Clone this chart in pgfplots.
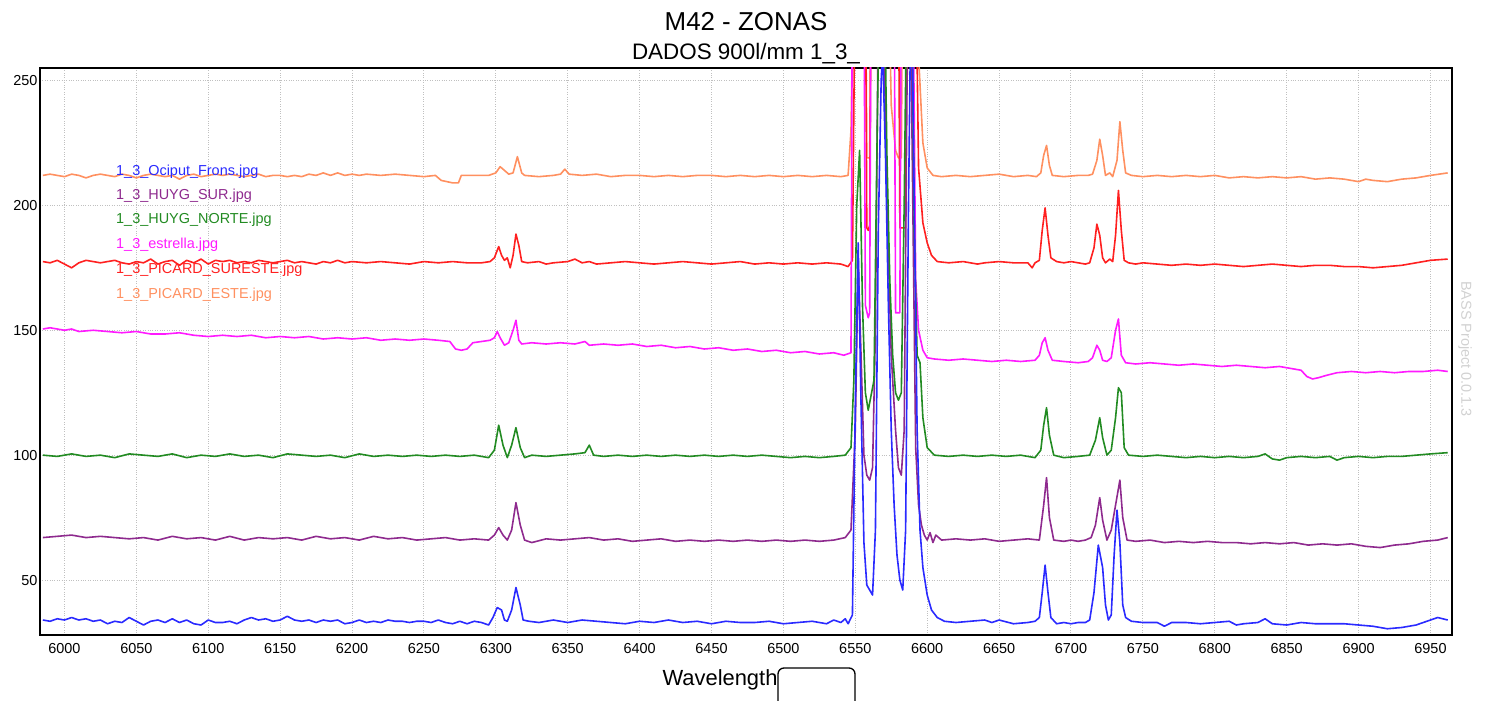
\documentclass[border=0pt]{standalone}
\usepackage{pgfplots}
\pgfplotsset{compat=1.18}
\usepackage{fontspec}
\setmainfont{Liberation Sans}
\definecolor{cblue}{HTML}{2A2AFF}
\definecolor{cpurple}{HTML}{8E2A8E}
\definecolor{cgreen}{HTML}{228B22}
\definecolor{cmag}{HTML}{FF1AFF}
\definecolor{cred}{HTML}{FF2020}
\definecolor{corange}{HTML}{FF9060}
\definecolor{gridc}{HTML}{C0C0C0}
\begin{document}
\begin{tikzpicture}
\path[use as bounding box] (-40bp,-66bp) rectangle (1446bp,635bp);
\begin{axis}[
  scale only axis, width=1412bp, height=567bp,
  at={(0,0)}, anchor=south west,
  xmin=5983, xmax=6965, ymin=28, ymax=255,
  xtick={6000,6050,...,6950}, ytick={50,100,150,200,250},
  grid=major, major grid style={gridc, dotted, line width=1bp},
  major tick length=0pt,
  axis line style={black, line width=1.3bp},
  /pgf/number format/assume math mode=true,
  /pgf/number format/set thousands separator={},
  tick label style={font=\fontsize{14.5}{17}\selectfont},
  xticklabel style={yshift=-5bp},
  yticklabel style={xshift=1bp},
  clip=true,
  every axis plot/.append style={line width=1.6bp, line join=round},
]
% orange PICARD_ESTE
\addplot[corange] coordinates {
(5985,212)(5990,212.5)(5995,212)(6000,211.5)(6005,212.5)(6010,212)(6015,211)(6020,212)(6025,212.5)(6030,212)(6035,211.5)(6040,212.5)(6045,212)(6050,211)(6055,212)(6060,212.5)(6065,212)(6070,211.5)(6075,212)(6080,210.5)(6085,212)(6090,212.5)(6095,211.5)(6100,212)(6105,212.5)(6110,212)(6115,212.5)(6120,212)(6125,211.5)(6130,212)(6135,212.5)(6140,211.5)(6145,212)(6150,212)(6155,211.5)(6160,212)(6165,211.5)(6170,212.5)(6175,212)(6180,213)(6185,212)(6190,213)(6195,212)(6200,212.5)(6205,212)(6210,212.5)(6220,212)(6230,212.5)(6240,212)(6250,211.5)(6258,212)(6262,210)(6266,209.5)(6270,209)(6274,209)(6276,212)(6285,212)(6295,212)(6300,213)(6303,215.5)(6306,214)(6309,212.5)(6312,213)(6315,219.5)(6318,213)(6320,212)(6330,211.5)(6340,212)(6345,212.5)(6348,214.5)(6351,212.5)(6360,212)(6370,212.5)(6380,211.5)(6390,212)(6400,212)(6410,211.5)(6420,212)(6430,211.5)(6440,212)(6450,212)(6460,211.5)(6470,212)(6480,211.5)(6490,212)(6500,211.5)(6510,212)(6520,211.5)(6530,212)(6540,211.5)(6545,212)(6547,230)(6549,300)(6557,300)(6558,219)(6560,219)(6561,300)(6573,300)(6575,240)(6578,222)(6580,219)(6582,219)(6583,300)(6592,300)(6594,260)(6597,225)(6600,215)(6604,212)(6610,211.5)(6620,212)(6630,211.5)(6640,212)(6650,212.5)(6660,211.5)(6670,212)(6676,211.5)(6679,213)(6681,220)(6683,224)(6685,216)(6687,212)(6695,211.5)(6705,212)(6712,212)(6715,212.5)(6718,218)(6720,226.5)(6722,220)(6724,212)(6727,213)(6729,211.5)(6732,218)(6734,233.5)(6736,222)(6738,213)(6742,212)(6750,211.5)(6760,212)(6770,211.5)(6780,212)(6790,211.5)(6800,212)(6810,211)(6820,211.5)(6830,211)(6840,211.5)(6850,211)(6860,211.5)(6870,210.5)(6880,211)(6890,210.5)(6900,209.5)(6905,210.5)(6910,210)(6920,209.5)(6930,210.5)(6940,211)(6950,212)(6962,213)
};
% red PICARD_SURESTE
\addplot[cred] coordinates {
(5985,177.5)(5990,177)(5995,178)(6000,176.5)(6005,175)(6010,177)(6015,178)(6020,177.5)(6025,177)(6030,177.5)(6035,178)(6040,177)(6045,176.5)(6050,177.5)(6055,177)(6060,178.5)(6065,176.5)(6070,177.5)(6075,178)(6080,176)(6085,178)(6090,177)(6095,178.5)(6100,176.5)(6105,178)(6110,177.5)(6115,178)(6120,177)(6125,177.5)(6130,177)(6135,178)(6140,177.5)(6145,177)(6150,177.5)(6155,178)(6160,177)(6165,177.5)(6170,177)(6175,176.5)(6180,177.5)(6185,177)(6190,178)(6195,177)(6200,177.5)(6210,177)(6220,177.5)(6230,177)(6240,176.5)(6250,177.5)(6260,177)(6270,177.5)(6280,177)(6290,177)(6296,177.5)(6299,179)(6302,183.5)(6304,180)(6306,178)(6308,179)(6310,175)(6312,180)(6314,188.5)(6316,184)(6318,177.5)(6322,177)(6330,177.5)(6335,176.5)(6340,177)(6350,177.5)(6355,178.5)(6360,177)(6365,177.5)(6370,176.5)(6380,177)(6390,177.5)(6400,177)(6410,176.5)(6420,177)(6430,177.5)(6440,177)(6450,176.5)(6460,177)(6470,177.5)(6480,176.5)(6490,177)(6500,176.5)(6510,177)(6520,176.5)(6530,177)(6540,176.5)(6545,175.5)(6548,178)(6550,300)(6557,300)(6558,191)(6559,190)(6560,192)(6561,300)(6580,300)(6581,191)(6585,191)(6586,300)(6592,300)(6594,215)(6597,193)(6600,185)(6603,180)(6607,177.5)(6615,177)(6625,177.5)(6635,176.5)(6640,177)(6650,177.5)(6660,177)(6670,177)(6673,175)(6675,177)(6678,178)(6680,190)(6682,199)(6684,188)(6686,179)(6690,177.5)(6695,177)(6700,177.5)(6705,177)(6710,176.5)(6713,177)(6716,183)(6718,192.5)(6720,188)(6722,179)(6724,177)(6727,178.5)(6729,177.5)(6731,188)(6733,206)(6735,190)(6737,178)(6740,177)(6745,176.5)(6750,177)(6760,176.5)(6770,176)(6780,176.5)(6790,176)(6800,176.5)(6810,176)(6820,175.5)(6830,176)(6840,176.5)(6850,176)(6860,175.5)(6870,176)(6880,176)(6890,175.5)(6900,175.5)(6910,175)(6920,175.5)(6930,176)(6940,177)(6950,178)(6962,178.5)
};
% magenta estrella
\addplot[cmag] coordinates {
(5985,150.5)(5990,151)(5995,150.5)(6000,150)(6005,150.5)(6010,149.5)(6020,150)(6030,149.5)(6040,149)(6050,149.5)(6060,148.5)(6070,148.5)(6080,149)(6090,148)(6100,147.5)(6110,148)(6120,147.5)(6130,148)(6140,147)(6150,147.5)(6160,147)(6170,147.5)(6180,146.5)(6190,147)(6200,146.5)(6210,147)(6220,146)(6230,146.5)(6240,146)(6250,146.5)(6260,146)(6268,145.5)(6272,142.5)(6276,142)(6280,142.5)(6284,145)(6290,145.5)(6296,146)(6299,147)(6301,149.5)(6303,147)(6306,144)(6309,145)(6312,150)(6314,154)(6316,146)(6318,144.5)(6325,145)(6335,144.5)(6345,145)(6355,144.5)(6362,145.5)(6365,144)(6375,144.5)(6385,144)(6395,144.5)(6405,143.5)(6415,144)(6425,143)(6435,143.5)(6445,142.5)(6455,143)(6465,142)(6475,142.5)(6485,141.5)(6495,142)(6505,141)(6515,141.5)(6525,140.5)(6535,141)(6542,140)(6547,141)(6548,300)(6556,300)(6557,160)(6559,155)(6560,157)(6561,300)(6577,300)(6578,157)(6581,157)(6582,300)(6590,300)(6592,170)(6594,150)(6597,142)(6600,139)(6605,138.5)(6615,138)(6625,138.5)(6635,138)(6645,137.5)(6655,138)(6665,137.5)(6675,138)(6678,140)(6680,145)(6682,147)(6684,142)(6687,138)(6695,137.5)(6705,137)(6712,137.5)(6715,139)(6718,144)(6720,142)(6722,138)(6725,137.5)(6728,139)(6731,150)(6733,154.5)(6735,140)(6738,137)(6745,136.5)(6755,137)(6765,136.5)(6775,136)(6785,136.5)(6795,136)(6805,135.5)(6815,136)(6825,135.5)(6835,135)(6845,135.5)(6855,134.5)(6860,134)(6864,131.5)(6868,130.5)(6872,131)(6878,132)(6885,133)(6895,133.5)(6905,133)(6915,133.5)(6925,133)(6935,133.5)(6945,133.5)(6955,134)(6962,133.5)
};
% purple HUYG_SUR
\addplot[cpurple] coordinates {
(5985,67)(5995,67.5)(6005,68)(6015,67)(6025,67.5)(6035,67)(6045,66.5)(6055,67)(6065,66)(6075,67.5)(6085,66.5)(6095,67)(6105,66)(6115,67.5)(6125,66)(6135,67)(6145,66.5)(6155,67)(6165,66)(6175,67.5)(6185,66.5)(6195,67)(6205,66)(6215,67.5)(6225,66.5)(6235,67)(6245,66)(6255,66.5)(6265,67)(6275,66)(6285,66.5)(6295,66)(6299,68)(6302,71)(6305,68)(6308,66)(6311,70)(6314,81)(6317,72)(6320,66)(6325,65)(6335,66.5)(6345,66)(6355,66.5)(6365,67)(6375,66)(6385,66.5)(6395,65.5)(6405,66)(6415,66.5)(6425,65.5)(6435,66)(6445,65.5)(6455,66)(6465,65.5)(6475,66)(6485,65.5)(6495,66)(6505,65.5)(6515,66)(6525,65.5)(6535,66)(6543,67)(6547,70)(6550,110)(6552,178)(6554,140)(6556,100)(6558,92)(6560,90)(6562,95)(6564,150)(6566,280)(6569,300)(6572,200)(6575,140)(6578,110)(6580,95)(6582,92)(6584,110)(6586,250)(6588,300)(6590,200)(6592,103)(6594,80)(6596,72)(6598,68)(6600,66)(6602,69)(6604,65)(6606,68)(6610,66)(6620,66.5)(6630,66)(6640,66.5)(6650,65.5)(6660,66)(6670,66.5)(6678,66)(6681,80)(6683,91)(6685,75)(6688,66)(6695,65.5)(6700,66)(6705,65.5)(6710,66)(6714,67)(6717,72)(6720,83)(6722,74)(6725,66)(6728,70)(6731,80)(6734,90)(6736,75)(6739,66)(6745,65.5)(6755,66)(6765,65)(6775,65.5)(6785,65)(6795,65.5)(6805,65)(6815,65)(6825,64.5)(6835,65)(6845,64.5)(6855,65)(6865,64)(6875,64.5)(6885,64)(6895,64.5)(6905,63.5)(6915,63)(6925,64)(6935,64.5)(6945,65.5)(6955,66)(6962,67)
};
% green HUYG_NORTE
\addplot[cgreen] coordinates {
(5985,100)(5995,99.5)(6005,100.5)(6015,99.5)(6025,100)(6035,99)(6045,100.5)(6055,100)(6065,99.5)(6075,100.5)(6085,99)(6095,100)(6105,99.5)(6115,100.5)(6125,99.5)(6135,100)(6145,99)(6155,100.5)(6165,100)(6175,99.5)(6185,100)(6195,99)(6205,100.5)(6215,99.5)(6225,100)(6235,99.5)(6245,100)(6255,99.5)(6265,100)(6275,99.5)(6285,100)(6295,99)(6299,102)(6302,112)(6305,104)(6308,99)(6311,104)(6314,111)(6317,103)(6320,99)(6325,100)(6335,99.5)(6345,100)(6355,100.5)(6362,101)(6365,104)(6368,100)(6375,99.5)(6385,100)(6395,99.5)(6405,100)(6415,99.5)(6425,100)(6435,99.5)(6445,100)(6455,99.5)(6465,100)(6475,99.5)(6485,100)(6495,99.5)(6505,99)(6515,99.5)(6525,99)(6535,99.5)(6543,100)(6547,103)(6549,130)(6551,200)(6553,222)(6555,160)(6557,125)(6559,118)(6561,124)(6563,130)(6565,220)(6567,300)(6570,300)(6572,220)(6574,170)(6576,140)(6578,125)(6580,122)(6582,125)(6584,200)(6586,300)(6589,300)(6591,190)(6593,140)(6595,137)(6597,115)(6600,103)(6605,100)(6615,99.5)(6625,100)(6635,99.5)(6645,100)(6655,99.5)(6665,100)(6675,99)(6679,102)(6681,112)(6683,119)(6685,108)(6688,100)(6695,99)(6705,99.5)(6713,100)(6717,106)(6720,115)(6722,107)(6725,100)(6728,102)(6731,115)(6733,127)(6735,125)(6737,103)(6740,100)(6750,99.5)(6760,100)(6770,99.5)(6780,99)(6790,99.5)(6800,99)(6810,99.5)(6820,99)(6830,99.5)(6835,100.5)(6840,98.5)(6845,98)(6850,99)(6860,99.5)(6870,99)(6880,99.5)(6885,98)(6890,99)(6900,99.5)(6910,99)(6920,99.5)(6930,99.5)(6940,100)(6950,100.5)(6962,101)
};
% blue Ociput_Frons
\addplot[cblue] coordinates {
(5985,34)(5990,33.5)(5995,34.5)(6000,34)(6005,35)(6010,34)(6015,34.5)(6020,33.5)(6025,34)(6030,32.5)(6035,33.5)(6040,33)(6045,35)(6050,33.5)(6055,32)(6060,33.5)(6065,34)(6070,33)(6075,34.5)(6080,33)(6085,34)(6090,32.5)(6095,32)(6100,34)(6105,33)(6110,33)(6115,33.5)(6120,32.5)(6125,34)(6130,35)(6135,34)(6140,34.5)(6145,33.5)(6150,34)(6155,35.5)(6160,34)(6165,33.5)(6170,34)(6175,33)(6180,34)(6185,33.5)(6190,34)(6195,32.5)(6200,33)(6205,34)(6210,33)(6215,33.5)(6220,33)(6225,34)(6230,33.5)(6235,33.5)(6240,33)(6245,33.5)(6250,33.5)(6255,33)(6260,34)(6265,33)(6270,32.5)(6275,33.5)(6280,32.5)(6285,33.5)(6290,33)(6295,32)(6298,35)(6301,39)(6304,38)(6306,34)(6308,33.5)(6311,38)(6314,47)(6317,40)(6319,34)(6323,33.5)(6330,33)(6340,34)(6350,33)(6360,34)(6370,33.5)(6380,33)(6390,32.5)(6400,33.5)(6410,33)(6420,34)(6430,33)(6440,33.5)(6450,32.5)(6460,33.5)(6470,33)(6480,33)(6490,33.5)(6500,32.5)(6510,33)(6520,33.5)(6530,32.5)(6535,34)(6540,33)(6543,34.5)(6545,32.5)(6548,36)(6550,120)(6552,185)(6554,120)(6556,65)(6558,48)(6560,46)(6562,44)(6564,70)(6566,190)(6568,250)(6569,262)(6571,220)(6573,160)(6575,110)(6577,80)(6579,60)(6581,50)(6583,46)(6585,70)(6587,200)(6589,300)(6591,200)(6593,110)(6595,70)(6597,55)(6600,44)(6603,38)(6607,35)(6612,33.5)(6620,33)(6630,33.5)(6640,34)(6645,33)(6650,34)(6660,32.5)(6670,33)(6675,33.5)(6678,35)(6680,45)(6682,56)(6684,45)(6686,35)(6690,32.5)(6695,33)(6700,32.5)(6705,33)(6710,33)(6713,34)(6716,45)(6719,64)(6722,55)(6724,40)(6726,34)(6728,36)(6730,60)(6732,78)(6734,65)(6736,40)(6738,35)(6742,33.5)(6750,33)(6760,33)(6765,31.5)(6770,33)(6780,33)(6790,32.5)(6800,33)(6810,33.5)(6815,32)(6820,32.5)(6830,33)(6835,34.5)(6840,32.5)(6850,32)(6860,33)(6870,32.5)(6880,32.5)(6890,32.5)(6900,32)(6910,31.5)(6920,30.5)(6930,31)(6940,32)(6950,34)(6955,35)(6962,34)
};
\end{axis}
% titles and labels (1bp = 1px of reference; origin at axis lower left = px (40,635))
\node[font=\fontsize{26}{30}\selectfont] at (706bp,613bp) {M42 - ZONAS};
\node[font=\fontsize{22.5}{26}\selectfont] at (706bp,581bp) {DADOS 900l/mm 1\_3\_};
\node[font=\fontsize{22}{26}\selectfont] at (680bp,-45bp) {Wavelength};
\draw[black, line width=1.3bp, rounded corners=6bp] (738bp,-68bp) -- (738bp,-33bp) -- (815bp,-33bp) -- (815bp,-68bp);
\node[font=\fontsize{14.5}{17}\selectfont, text=black!18, rotate=-90] at (1425bp,286bp) {BASS Project 0.0.1.3};
% legend texts
\begin{scope}[every node/.style={anchor=west, inner sep=0pt, font=\fontsize{14.5}{17}\selectfont}]
\node[text=cblue] at (76bp,463bp) {1\_3\_Ociput\_Frons.jpg};
\node[text=cpurple] at (76bp,439bp) {1\_3\_HUYG\_SUR.jpg};
\node[text=cgreen] at (76bp,415bp) {1\_3\_HUYG\_NORTE.jpg};
\node[text=cmag] at (76bp,390bp) {1\_3\_estrella.jpg};
\node[text=cred] at (76bp,365bp) {1\_3\_PICARD\_SURESTE.jpg};
\node[text=corange] at (76bp,340bp) {1\_3\_PICARD\_ESTE.jpg};
\end{scope}
\end{tikzpicture}
\end{document}
